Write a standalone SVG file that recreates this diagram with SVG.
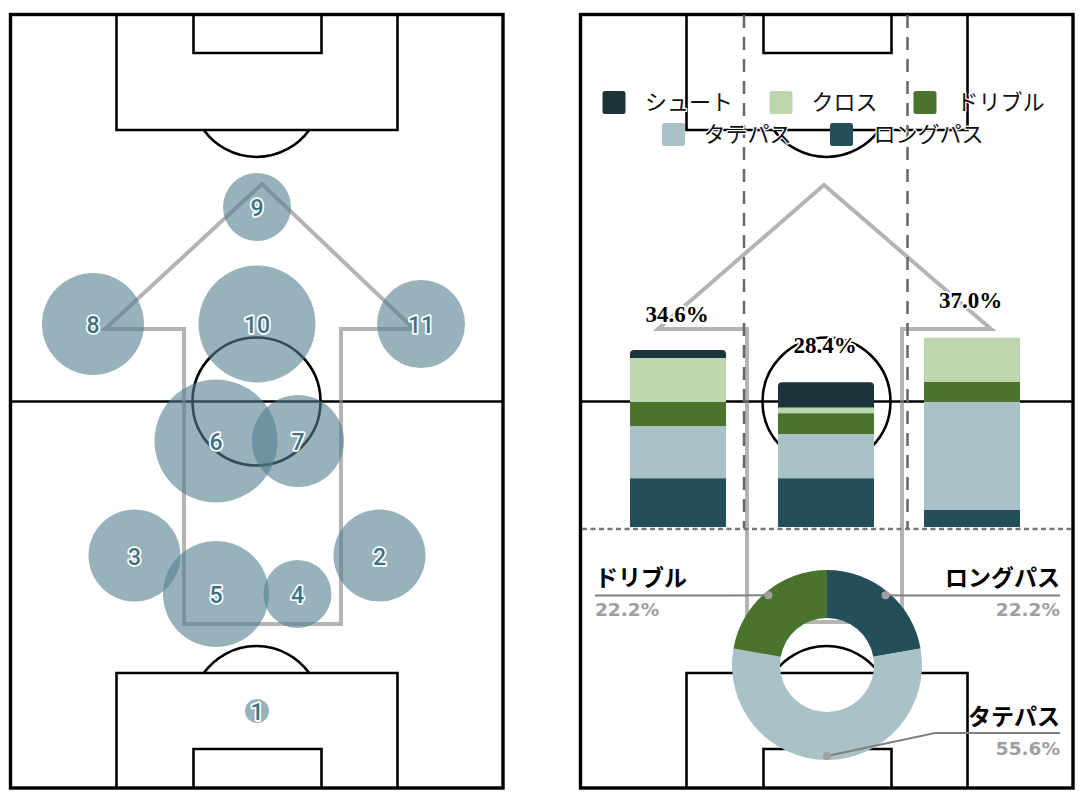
<svg xmlns="http://www.w3.org/2000/svg" xmlns:xlink="http://www.w3.org/1999/xlink" width="1084" height="800" viewBox="0 0 1084 800">
<style>
.line{fill:none;stroke:#000;stroke-width:2.6}
.border{fill:none;stroke:#000;stroke-width:3.4}
.flow{fill:none;stroke:#8c8c8c;stroke-opacity:0.65;stroke-width:4;stroke-linejoin:miter}
.player{fill:#537e8d;fill-opacity:0.6}
.num{font-family:Roboto,"Noto Sans",sans-serif;font-weight:500;font-size:23px;fill:#3d7282;stroke:#fff;stroke-width:3.5;paint-order:stroke;stroke-linejoin:round;text-anchor:middle}
.vdash{stroke:#666;stroke-width:2.5;stroke-dasharray:13 9;fill:none}
.hdash{stroke:#777;stroke-width:2.5;stroke-dasharray:5 3.5;fill:none}
.pct{font-family:"Liberation Serif",serif;font-weight:bold;font-size:23px;fill:#000;stroke:#fff;stroke-width:4;paint-order:stroke;stroke-linejoin:round;text-anchor:middle}
.leg{font-family:"Noto Sans CJK JP",sans-serif;font-size:22px;fill:#111;stroke:#fff;stroke-width:2.5;paint-order:stroke;stroke-linejoin:round}
.shoot{fill:#1b343b}.cross{fill:#bed6ad}.dribble{fill:#4a742e}.tate{fill:#a8c2c7}.long{fill:#254e5b}
.lead{fill:none;stroke:#808080;stroke-width:2}
.dot{fill:#a0a0a0}
.lab{font-family:"Noto Sans CJK JP",sans-serif;font-weight:bold;font-size:23px;fill:#000}
.val{font-family:"DejaVu Sans",sans-serif;font-weight:bold;font-size:18.5px;fill:#9e9e9e}
</style>
<defs>
<g id="pitch">
<rect class="border" x="10.5" y="14.5" width="492.5" height="773.5"/>
<line class="line" x1="10.5" y1="401.5" x2="503" y2="401.5"/>
<circle class="line" cx="256.5" cy="401.5" r="64"/>
<path class="line" d="M116.5,14.5 V130 H397.5 V14.5"/>
<path class="line" d="M193.5,14.5 V53 H321.5 V14.5"/>
<path class="line" d="M203.8,130 A65,65 0 0 0 309.2,130"/>
<path class="line" d="M116.5,788 V673 H397.5 V788"/>
<path class="line" d="M193.5,788 V749 H321.5 V788"/>
<path class="line" d="M203.8,673 A65,65 0 0 1 309.2,673"/>
</g>
</defs>
<rect width="1084" height="800" fill="#fff"/>

<g id="left-pitch">
<use href="#pitch"/>
</g>
<g id="right-pitch">
<use href="#pitch" transform="translate(570,0)"/>
</g>

<g id="flow-arrows">
<polygon class="flow" points="105,329 262,184 414,329 341,329 341,624 184,624 184,329"/>
<polygon class="flow" points="658,329 824,185 991,329 902,329 902,622 747,622 747,329"/>
</g>

<g id="players">
<g id="p9"><circle class="player" cx="257" cy="207" r="34"/><text class="num" x="257" y="216">9</text></g>
<g id="p8"><circle class="player" cx="93" cy="324" r="51"/><text class="num" x="93" y="333">8</text></g>
<g id="p10"><circle class="player" cx="257" cy="324" r="58.5"/><text class="num" x="257" y="333">10</text></g>
<g id="p11"><circle class="player" cx="421" cy="324" r="44"/><text class="num" x="421" y="333">11</text></g>
<g id="p6"><circle class="player" cx="216" cy="441" r="61.5"/><text class="num" x="216" y="450">6</text></g>
<g id="p7"><circle class="player" cx="298" cy="441" r="46"/><text class="num" x="298" y="450">7</text></g>
<g id="p3"><circle class="player" cx="134.5" cy="555.5" r="46"/><text class="num" x="134.5" y="564.5">3</text></g>
<g id="p2"><circle class="player" cx="379.5" cy="555.5" r="46"/><text class="num" x="379.5" y="564.5">2</text></g>
<g id="p5"><circle class="player" cx="216" cy="594" r="53"/><text class="num" x="216" y="603">5</text></g>
<g id="p4"><circle class="player" cx="297.5" cy="594" r="34"/><text class="num" x="297.5" y="603">4</text></g>
<g id="p1"><circle class="player" cx="257" cy="711" r="12"/><text class="num" x="257" y="720">1</text></g>
</g>

<g id="zones">
<line class="vdash" x1="744" y1="15" x2="744" y2="528"/>
<line class="vdash" x1="907.5" y1="15" x2="907.5" y2="528"/>
</g>

<g id="bar-left">
<path class="shoot" d="M630,358 V354 Q630,350 634,350 H722 Q726,350 726,354 V358 Z"/>
<rect class="cross" x="630" y="358" width="96" height="44"/>
<rect class="dribble" x="630" y="402" width="96" height="24"/>
<rect class="tate" x="630" y="426" width="96" height="52.3"/>
<rect class="long" x="630" y="478.3" width="96" height="48.7"/>
<text class="pct" x="677" y="322">34.6%</text>
</g>
<g id="bar-center">
<path class="shoot" d="M778,407.7 V386.3 Q778,382.3 782,382.3 H870 Q874,382.3 874,386.3 V407.7 Z"/>
<rect class="cross" x="778" y="407.7" width="96" height="5.6"/>
<rect class="dribble" x="778" y="413.3" width="96" height="20.7"/>
<rect class="tate" x="778" y="434" width="96" height="44.3"/>
<rect class="long" x="778" y="478.3" width="96" height="48.7"/>
<text class="pct" x="825" y="353">28.4%</text>
</g>
<g id="bar-right">
<rect class="cross" x="924" y="337.7" width="96" height="44.3"/>
<rect class="dribble" x="924" y="382" width="96" height="19.7"/>
<rect class="tate" x="924" y="401.7" width="96" height="108.3"/>
<rect class="long" x="924" y="510" width="96" height="17"/>
<text class="pct" x="970.5" y="308">37.0%</text>
</g>

<g id="divider">
<line class="hdash" x1="582" y1="529" x2="1071" y2="529"/>
</g>

<g id="legend">
<rect class="shoot" x="602.5" y="91" width="23" height="23" rx="2.5"/>
<text class="leg" x="645" y="109.5">シュート</text>
<rect class="cross" x="769.5" y="91" width="23" height="23" rx="2.5"/>
<text class="leg" x="811.5" y="109.5">クロス</text>
<rect class="dribble" x="913.5" y="91" width="23" height="23" rx="2.5"/>
<text class="leg" x="956.5" y="109.5">ドリブル</text>
<rect class="tate" x="662" y="123" width="23" height="23" rx="2.5"/>
<text class="leg" x="703.5" y="141.5">タテパス</text>
<rect class="long" x="830" y="123" width="23" height="23" rx="2.5"/>
<text class="leg" x="873.5" y="141.5">ロングパス</text>
</g>

<g id="donut">
<path class="long" d="M827,570 A95,95 0 0 1 920.56,648.5 L873.29,656.84 A47,47 0 0 0 827,618 Z"/>
<path class="tate" d="M920.56,648.5 A95,95 0 1 1 733.44,648.5 L780.71,656.84 A47,47 0 1 0 873.29,656.84 Z"/>
<path class="dribble" d="M733.44,648.5 A95,95 0 0 1 827,570 L827,618 A47,47 0 0 0 780.71,656.84 Z"/>
</g>

<g id="connectors">
<polyline class="lead" points="768.5,595.3 723,595.5 595,595.5"/>
<polyline class="lead" points="885.5,595.3 903,595.5 1060,595.5"/>
<polyline class="lead" points="827,756 935,733 1060,733"/>
<circle class="dot" cx="768.5" cy="595.3" r="4"/>
<circle class="dot" cx="885.5" cy="595.3" r="4"/>
<circle class="dot" cx="827" cy="756" r="4"/>
</g>

<g id="label-dribble">
<text class="lab" x="595" y="586">ドリブル</text>
<text class="val" x="595" y="616">22.2%</text>
</g>
<g id="label-long">
<text class="lab" x="1060" y="586" text-anchor="end">ロングパス</text>
<text class="val" x="1060" y="616" text-anchor="end">22.2%</text>
</g>
<g id="label-tate">
<text class="lab" x="1060" y="725" text-anchor="end">タテパス</text>
<text class="val" x="1060" y="755" text-anchor="end">55.6%</text>
</g>
</svg>
